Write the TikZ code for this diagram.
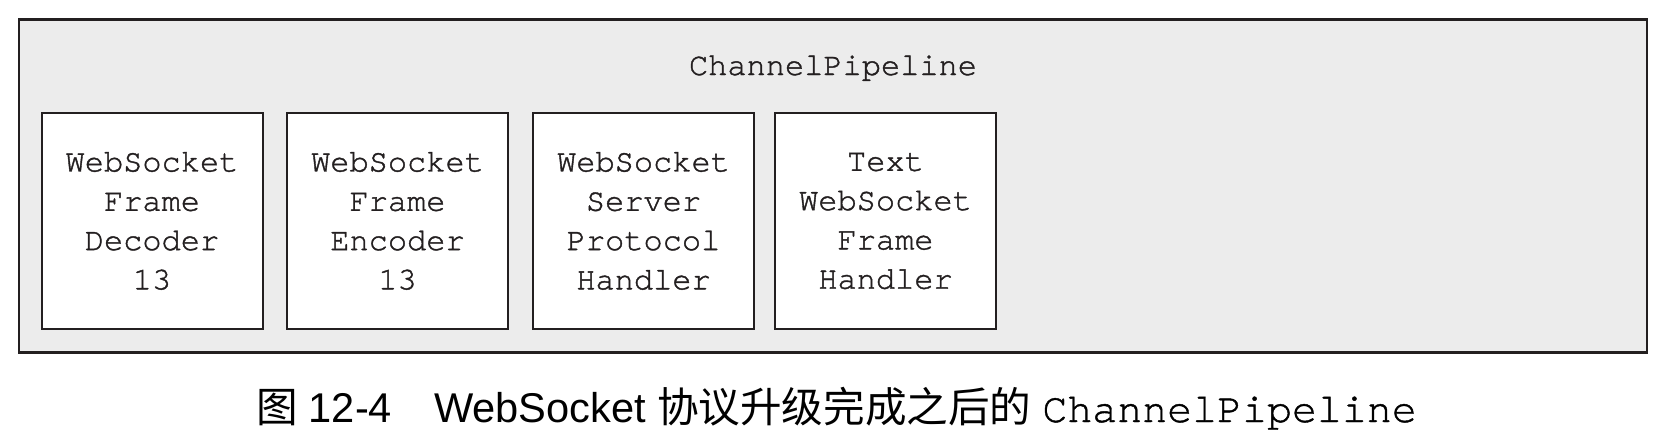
\documentclass[tikz,border=0pt]{standalone}
\usepackage{fontspec}
\newfontfamily\cour{TeX Gyre Cursor}[FakeBold=1.2]
\newfontfamily\capcour{TeX Gyre Cursor}[FakeBold=1.0]
\newfontfamily\cjk{Noto Sans CJK SC}
\newfontfamily\arial{Liberation Sans}
\definecolor{ink}{HTML}{231F20}
\definecolor{panel}{HTML}{ECECEC}
\newcommand\boxfont{\cour\fontsize{32}{39.3}\selectfont}
\newcommand\capfont{\fontsize{41.6}{45}\selectfont}
\begin{document}
\begin{tikzpicture}[x=1pt,y=-1pt,
  frame/.style={draw=ink, line width=2.4pt, fill=panel, inner sep=0pt,
    minimum width=1628pt, minimum height=333pt},
  handler/.style={draw=ink, line width=2pt, fill=white, inner sep=0pt,
    minimum width=221pt, minimum height=216pt, align=center,
    font=\boxfont, text=ink},
  label/.style={inner sep=0pt, text=ink},
]
\useasboundingbox (0,0) rectangle (1666,436);
\node[frame] (pipe) at (833,186) {};
\node[label, anchor=base, font=\boxfont] (title) at (833,75) {ChannelPipeline};
\node[handler] (dec) at (152,221) {WebSocket\\Frame\\Decoder\\13};
\node[handler] (enc) at (397.5,221) {WebSocket\\Frame\\Encoder\\13};
\node[handler] (proto) at (643.5,221) {WebSocket\\Server\\Protocol\\Handler};
\node[handler] (txt) at (885.5,221) {Text\\WebSocket\\Frame\\Handler};
\node[inner sep=0pt, anchor=base west, text=black, font=\capfont] (cap) at (256,422) {{\cjk 图}\hspace{11pt}{\arial 12-4}\hspace{42pt}{\arial WebSocket}\hspace{11pt}{\cjk 协议升级完成之后的}\hspace{11pt}{\capcour ChannelPipeline}};
\end{tikzpicture}
\end{document}
